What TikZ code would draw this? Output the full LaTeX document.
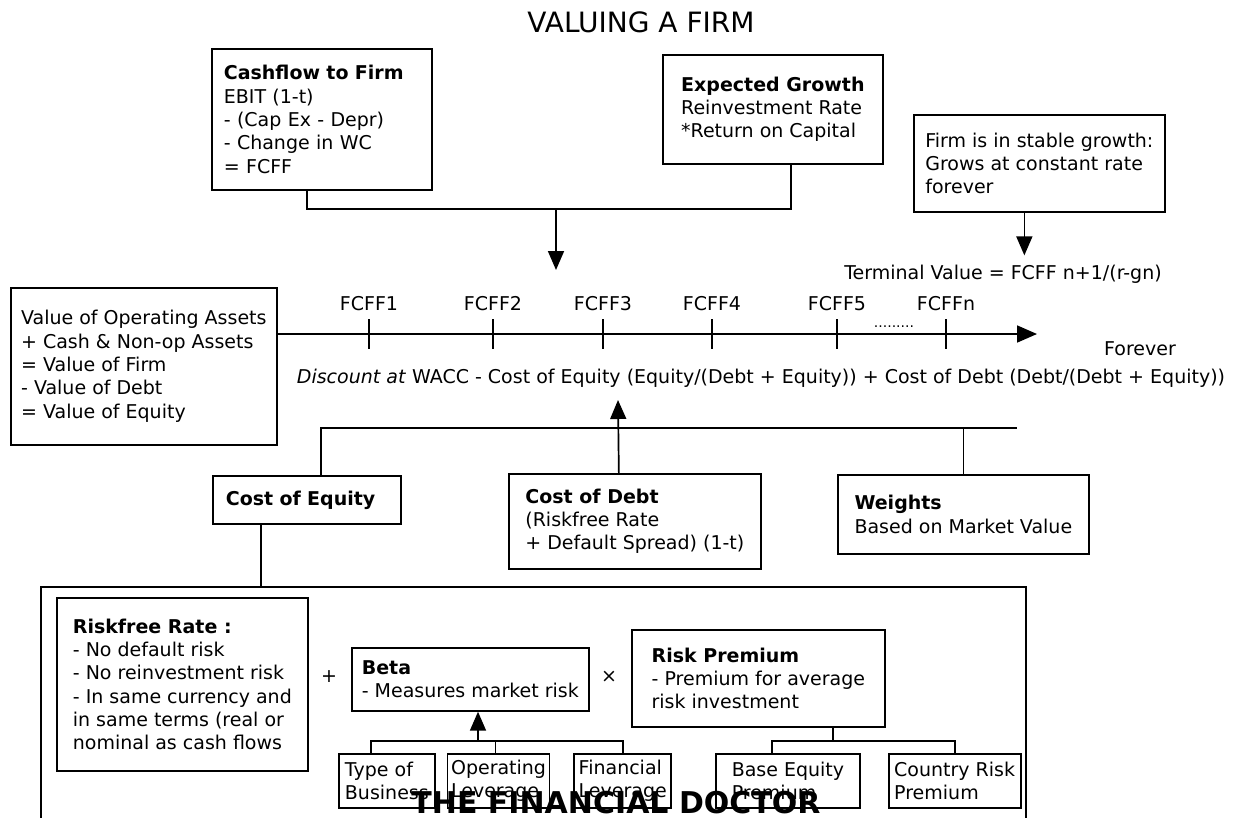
\documentclass[tikz,border=0pt]{standalone}
\usepackage{fontspec}
\setmainfont{DejaVu Sans}
\usetikzlibrary{positioning,arrows.meta}

\begin{document}
\begin{tikzpicture}[x=1pt, y=-1pt,
  font=\fontsize{19}{23.3}\selectfont,
  box/.style={draw, line width=1.7pt, anchor=north west, align=left,
              inner ysep=0pt, inner xsep=4pt},
  small/.style={box, minimum height=54pt, inner xsep=2pt},
  lbl/.style={anchor=base, inner sep=0pt},
  link/.style={line width=1.7pt},
  arr/.style={link, -{Triangle[length=19pt, width=16pt]}},
  node distance=11pt]
\useasboundingbox (0,0) rectangle (1244,817);

\node[lbl, font=\fontsize{28}{34}\selectfont] (title) at (641,32) {VALUING A FIRM};

% Top: cash flows and growth feed the timeline.
\node[box, minimum width=220pt, minimum height=141pt, text width=196pt, inner xsep=12pt] (cf) at (211,48)
  {\textbf{Cashflow to Firm}\\EBIT (1-t)\\- (Cap Ex - Depr)\\- Change in WC\\= FCFF};
\node[box, minimum width=220pt, minimum height=109pt] (eg) at (662,54)
  {\textbf{Expected Growth}\\Reinvestment Rate\\*Return on Capital};
\node[box, minimum width=251pt, minimum height=97pt] (st) at (913,114)
  {Firm is in stable growth:\\Grows at constant rate\\forever};
\coordinate (jn) at (556,209);
\coordinate (cfin) at (556,270);
\draw[link] ([xshift=-15pt]cf.south) |- (jn) -| ([xshift=18pt]eg.south);
\draw[arr] (jn) -- (cfin);
\node[lbl] (tv) at (1003,279) {Terminal Value = FCFF n+1/(r-gn)};
\draw[arr] ([xshift=-15pt]st.south) -- ([xshift=-15pt,yshift=9pt]st.south |- tv.north);

% Timeline.
\node[box, minimum width=266pt, minimum height=157pt] (vb) at (10,287)
  {Value of Operating Assets\\+ Cash \& Non-op Assets\\= Value of Firm\\- Value of Debt\\= Value of Equity};
\coordinate (tend) at (1037,334);
\draw[link, -{Triangle[length=20pt, width=17pt]}] (vb.east |- tend) -- (tend);
\foreach \x/\t [count=\i] in {369/1, 493/2, 603/3, 712/4, 837/5, 946/n} {
  \draw[link] (\x,319) -- (\x,349);
  \node[lbl] (f\i) at (\x,310) {FCFF\t};
}
\node[lbl, font=\fontsize{14}{16}\selectfont] (dots) at (894,327) {.........};
\node[lbl] (fe) at (1140,355) {Forever};
\node[lbl] (disc) at (761,383)
  {\textit{Discount at} WACC - Cost of Equity (Equity/(Debt + Equity)) + Cost of Debt (Debt/(Debt + Equity))};

% Discount rate parts.
\node[box, minimum width=188pt, minimum height=48pt, text width=162pt, inner xsep=13pt] (ce) at (212,475)
  {\textbf{Cost of Equity}};
\node[box, minimum width=252pt, minimum height=95pt] (cd) at (508,473)
  {\textbf{Cost of Debt}\\(Riskfree Rate\\+ Default Spread) (1-t)};
\node[box, minimum width=251pt, minimum height=79pt] (we) at (837,474)
  {\textbf{Weights}\\Based on Market Value};
\coordinate (wr) at (1017,428);
\coordinate (wacc) at (618,400);
\draw[link] ([xshift=14pt]ce.north) |- (wr);
\draw[link] (we.north) -- (we.north |- wr);
\draw[arr] ([xshift=-16pt]cd.north) -- (wacc);

% Cost of equity block.
\node[draw, link, anchor=north west, minimum width=985pt, minimum height=300pt, inner sep=0pt] (rk) at (40,586) {};
\draw[link] ([xshift=-46pt]ce.south) -- ([xshift=-46pt]ce.south |- rk.north);
\node[box, minimum width=251pt, minimum height=173pt] (rf) at (56,597)
  {\textbf{Riskfree Rate :}\\- No default risk\\- No reinvestment risk\\- In same currency and\\in same terms (real or\\nominal as cash flows};
\node[inner sep=0pt] (pl) at (329,677) {+};
\node[box, minimum width=237pt, minimum height=63pt] (bt) at (351,647)
  {\textbf{Beta}\\- Measures market risk};
\node[inner sep=0pt] (tm) at (609,677) {×};
\node[box, minimum width=253pt, minimum height=97pt] (rp) at (631,629)
  {\textbf{Risk Premium}\\- Premium for average\\risk investment};

\node[small, minimum width=96pt] (b1) at (338,753) {Type of\\Business};
\node[small, minimum width=102pt, right=11pt of b1] (b2) {Operating\\Leverage};
\node[small, minimum width=97pt, right=23pt of b2] (b3) {Financial\\Leverage};
\node[small, minimum width=144pt, right=43pt of b3] (b4) {Base Equity\\Premium};
\node[small, minimum width=132pt, right=27pt of b4] (b5) {Country Risk\\Premium};

\coordinate (bj) at (478,741);
\coordinate (rj) at (833,741);
\draw[link] ([xshift=-16pt]b1.north) |- (b3.north |- bj) -- (b3.north);
\draw[link] ([xshift=-3pt]b2.north) -- ([xshift=-3pt]b2.north |- bj);
\draw[arr] (bj) -- (bj |- bt.south);
\draw[link] (rj |- rp.south) -- (rj);
\draw[link] ([xshift=-16pt]b4.north) |- (b5.north |- rj) -- (b5.north);

\node[lbl, font=\fontsize{30}{36}\selectfont\bfseries] (ft) at (616,813) {THE FINANCIAL DOCTOR};
\end{tikzpicture}
\end{document}
